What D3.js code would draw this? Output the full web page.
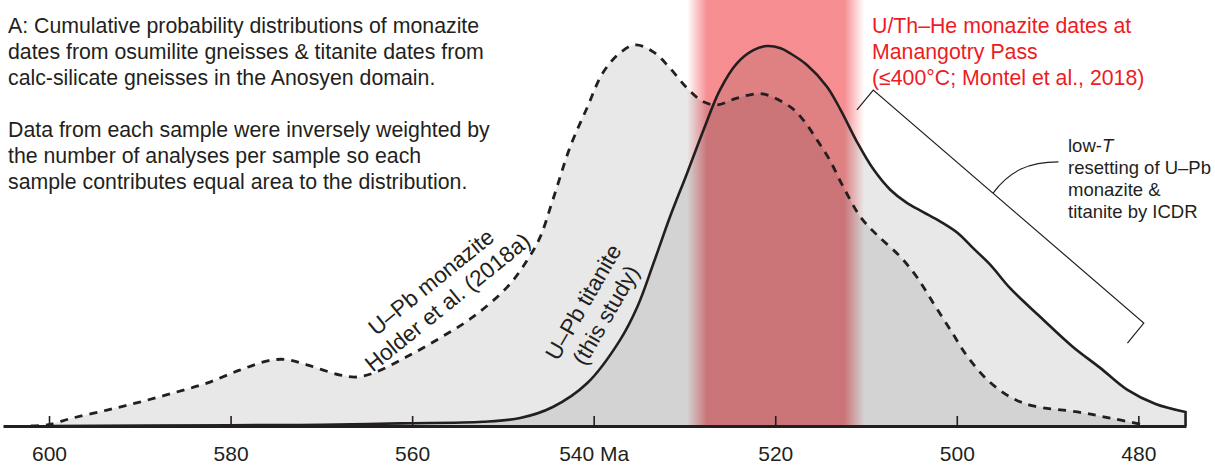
<!DOCTYPE html>
<html>
<head>
<meta charset="utf-8">
<script src="https://cdn.jsdelivr.net/npm/d3@7"></script>
<style>
body { margin: 0; background: #fff; }
text { font-family: "Liberation Sans", Arial, sans-serif; fill: #231f20; }
</style>
</head>
<body>
<div id="chart"></div>
<script>
// tick labels on the age axis (Ma)
const ageTicks = [600, 580, 560, 540, 520, 500, 480]

// U-Pb titanite (this study), relative probability
const titaniteAge = [600, 580, 570, 561.3, 552.2, 548.1, 544.5, 540.7, 537.1, 535.2, 533.4, 531.6, 529.7, 527.9, 526.1, 524.2, 522.4, 520.9, 519.4, 518.3, 516.5, 514.3, 512.8, 511.0, 509.2, 507.3, 505.5, 503.7, 501.8, 499.9, 498.2, 496.3, 494.1, 490.8, 487.2, 484.2, 481.2, 478.1, 474.8]
const titaniteProb = [0, 0.002, 0.003, 0.007, 0.011, 0.021, 0.05, 0.113, 0.226, 0.313, 0.429, 0.55, 0.666, 0.779, 0.884, 0.955, 0.989, 1.0, 0.994, 0.980, 0.950, 0.893, 0.832, 0.748, 0.676, 0.621, 0.587, 0.563, 0.538, 0.508, 0.468, 0.424, 0.362, 0.287, 0.208, 0.153, 0.095, 0.058, 0.037]

// U-Pb monazite (Holder et al. 2018a)
const monaziteAge = [602, 600.2, 597.4, 593.6, 590.0, 586.3, 582.6, 579.0, 575.8, 573.9, 571.6, 567.9, 566.1, 564.3, 560.6, 556.9, 553.3, 549.5, 547.3, 545.9, 544.5, 542.6, 540.7, 539.0, 537.1, 535.4, 533.4, 531.6, 529.7, 527.9, 526.4, 524.2, 521.4, 518.3, 516.9, 515.4, 514.0, 512.5, 510.6, 508.8, 506.2, 504.4, 502.6, 500.7, 498.8, 496.6, 494.1, 491.6, 486.7, 483.1, 479.8]
const monaziteProb = [0, 0.003, 0.021, 0.042, 0.063, 0.087, 0.113, 0.147, 0.172, 0.175, 0.161, 0.134, 0.129, 0.139, 0.182, 0.232, 0.287, 0.366, 0.437, 0.497, 0.595, 0.734, 0.839, 0.929, 0.982, 1.003, 0.984, 0.942, 0.889, 0.853, 0.845, 0.863, 0.874, 0.839, 0.805, 0.753, 0.700, 0.629, 0.55, 0.503, 0.445, 0.392, 0.324, 0.253, 0.182, 0.121, 0.076, 0.053, 0.037, 0.021, 0.005]

// U/Th-He monazite band: fade in, solid, solid, fade out (Ma)
const heBandAge = [529.7, 527.5, 512.4, 510.2]

const titleLines = [
    "A: Cumulative probability distributions of monazite",
    "dates from osumilite gneisses & titanite dates from",
    "calc-silicate gneisses in the Anosyen domain.",
    "",
    "Data from each sample were inversely weighted by",
    "the number of analyses per sample so each",
    "sample contributes equal area to the distribution."
]
const heLines = ["U/Th\u2013He monazite dates at", "Manangotry Pass", "(\u2264400\u00b0C; Montel et al., 2018)"]
const monaziteLabel = ["U\u2013Pb monazite", "Holder et al. (2018a)"]
const titaniteLabel = ["U\u2013Pb titanite", "(this study)"]
const noteLines = ["resetting of U\u2013Pb", "monazite &", "titanite by ICDR"]

const WIDTH = 1215
const HEIGHT = 465
const BASE = 426
const INK = "#231f20"

const svg = d3.select("#chart")
    .append("svg")
        .attr("width", WIDTH)
        .attr("height", HEIGHT)

const x = d3.scaleLinear()
    .domain([605.07, 474.75])
    .range([3, 1186])

const y = d3.scaleLinear()
    .domain([0, 1])
    .range([BASE, 46])

const titanite = titaniteAge.map((a, i) => ({age: a, p: titaniteProb[i]}))
const monazite = monaziteAge.map((a, i) => ({age: a, p: monaziteProb[i]}))

// red band with soft edges
const defs = svg.append("defs")
const grad = defs.append("linearGradient")
    .attr("id", "heGrad")
    .attr("gradientUnits", "userSpaceOnUse")
    .attr("x1", x(heBandAge[0])).attr("x2", x(heBandAge[3]))
    .attr("y1", 0).attr("y2", 0)
const bandW = x(heBandAge[3]) - x(heBandAge[0])
const stops = [
    [0, 0],
    [(x(heBandAge[1]) - x(heBandAge[0])) / bandW, 0.5],
    [(x(heBandAge[2]) - x(heBandAge[0])) / bandW, 0.5],
    [1, 0]
]
grad.selectAll("stop").data(stops).enter().append("stop")
    .attr("offset", d => d[0])
    .attr("stop-color", "#ed1c24")
    .attr("stop-opacity", d => d[1])

svg.append("rect")
    .attr("x", x(heBandAge[0]))
    .attr("y", 0)
    .attr("width", bandW)
    .attr("height", BASE)
    .attr("fill", "url(#heGrad)")

// grey areas, overlap gets darker
const curve = d3.curveCatmullRom.alpha(0.5)
const area = d3.area()
    .x(d => x(d.age))
    .y0(y(0))
    .y1(d => y(d.p))
    .curve(curve)

const line = d3.line()
    .x(d => x(d.age))
    .y(d => y(d.p))
    .curve(curve)

svg.append("path").datum(monazite)
    .attr("d", area)
    .attr("fill", "#000")
    .attr("fill-opacity", 0.09)

svg.append("path").datum(titanite)
    .attr("d", area)
    .attr("fill", "#000")
    .attr("fill-opacity", 0.09)

svg.append("path").datum(monazite)
    .attr("d", line)
    .attr("fill", "none")
    .attr("stroke", INK)
    .attr("stroke-width", 2.8)
    .attr("stroke-dasharray", "8,7")

// solid curve ends with a drop to the axis
svg.append("path").datum(titanite)
    .attr("d", d => line(d) + `V${y(0)}`)
    .attr("fill", "none")
    .attr("stroke", INK)
    .attr("stroke-width", 2.6)

// axis, ticks pointing up
const xAxisCall = d3.axisBottom(x)
    .tickValues(ageTicks)
    .tickSizeInner(-10)
    .tickSizeOuter(0)
    .tickPadding(20)
    .tickFormat(d => d === 540 ? "540 Ma" : d)

const xAxisGroup = svg.append("g")
    .attr("transform", `translate(0, ${BASE})`)
    .call(xAxisCall)
xAxisGroup.select(".domain").attr("stroke", INK).attr("stroke-width", 3)
xAxisGroup.selectAll(".tick line").attr("stroke", INK).attr("stroke-width", 1.6)
xAxisGroup.selectAll(".tick text")
    .attr("font-family", "Liberation Sans, Arial, sans-serif")
    .attr("font-size", 21)
    .attr("fill", INK)

// title block
svg.append("g").selectAll("text")
    .data(titleLines).enter().append("text")
        .attr("x", 8)
        .attr("y", (d, i) => 33 + i * 26)
        .attr("font-size", 21.3)
        .text(d => d)

// red annotation
svg.append("g").selectAll("text")
    .data(heLines).enter().append("text")
        .attr("x", 872)
        .attr("y", (d, i) => 33 + i * 26)
        .attr("font-size", 21.3)
        .style("fill", "#ed1c24")
        .text(d => d)

// bracket along the falling limb
const bracket = [[511.0, 0.832], [509.2, 0.884], [479.4, 0.271], [481.2, 0.218]]
svg.append("path")
    .attr("d", d3.line()(bracket.map(d => [x(d[0]), y(d[1])])))
    .attr("fill", "none")
    .attr("stroke", INK)
    .attr("stroke-width", 1.2)

const leader = d3.path()
leader.moveTo(x(496.0), y(0.613))
leader.bezierCurveTo(x(494.2), y(0.672), x(492.0), y(0.695), x(488.8), y(0.695))
svg.append("path")
    .attr("d", leader.toString())
    .attr("fill", "none")
    .attr("stroke", INK)
    .attr("stroke-width", 1.2)

const note = svg.append("text")
    .attr("x", 1068)
    .attr("y", 152)
    .attr("font-size", 18.5)
note.append("tspan").text("low-")
note.append("tspan").attr("font-style", "italic").text("T")
svg.append("g").selectAll("text")
    .data(noteLines).enter().append("text")
        .attr("x", 1068)
        .attr("y", (d, i) => 174 + i * 22)
        .attr("font-size", 18.5)
        .text(d => d)

// rotated curve labels
const monG = svg.append("g")
    .attr("transform", "translate(436, 288) rotate(-39)")
monG.selectAll("text").data(monaziteLabel).enter().append("text")
    .attr("x", 0)
    .attr("y", (d, i) => i * 26)
    .attr("text-anchor", "middle")
    .attr("font-size", 22.5)
    .text(d => d)

const titG = svg.append("g")
    .attr("transform", "translate(590, 306) rotate(-60)")
titG.selectAll("text").data(titaniteLabel).enter().append("text")
    .attr("x", 0)
    .attr("y", (d, i) => i * 26)
    .attr("text-anchor", "middle")
    .attr("font-size", 22.5)
    .text(d => d)
</script>
</body>
</html>
